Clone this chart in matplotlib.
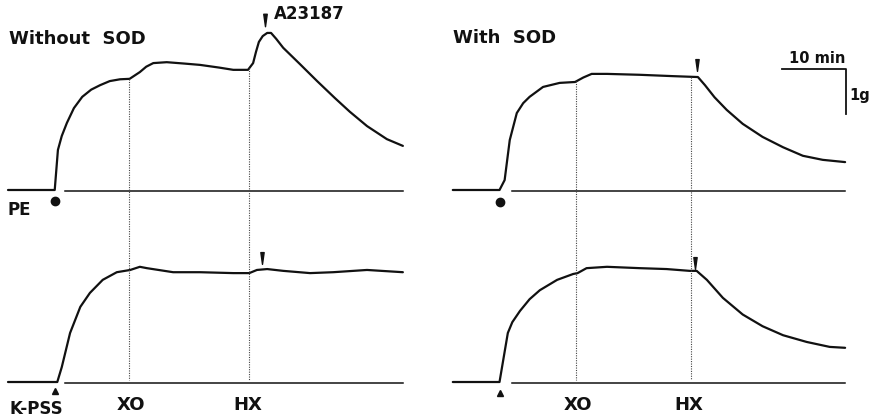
import numpy as np
import matplotlib.pyplot as plt
from matplotlib.path import Path

# ---- data: time (min) and tension (g above rest) ----
# Without SOD, PE contraction
pe_wo_t = [0, 7.3, 7.8, 8.4, 9.2, 10.3, 11.6, 13.0, 14.4, 15.9, 17.5, 19.0,
           20.6, 21.6, 22.7, 24.8, 27.5, 30.0, 33.0, 35.2, 37.5, 38.3, 38.75,
           39.2, 39.8, 40.5, 41.1, 41.9, 43.0, 45.6, 48.3, 51.1, 53.4, 56.1,
           59.2, 61.7]
pe_wo_g = [0, 0, 0.89, 1.2, 1.49, 1.82, 2.07, 2.23, 2.33, 2.42, 2.46, 2.47,
           2.62, 2.74, 2.82, 2.84, 2.81, 2.78, 2.72, 2.67, 2.67, 2.82, 3.07,
           3.29, 3.42, 3.49, 3.49, 3.36, 3.16, 2.80, 2.42, 2.04, 1.74, 1.42,
           1.13, 0.98]

# With SOD, PE contraction
pe_w_t = [0, 7.3, 8.1, 8.9, 10.0, 11.0, 12.0, 14.1, 16.7, 19.1, 20.4, 21.7,
          24.1, 29.2, 34.4, 38.3, 39.4, 40.9, 42.8, 45.3, 48.4, 51.6, 54.7,
          57.8, 61.3]
pe_w_g = [0, 0, 0.22, 1.11, 1.71, 1.93, 2.07, 2.29, 2.38, 2.40, 2.50, 2.58,
          2.58, 2.56, 2.53, 2.51, 2.33, 2.06, 1.78, 1.47, 1.18, 0.95, 0.76,
          0.67, 0.62]

# Without SOD, K-PSS contraction
k_wo_t = [0, 7.7, 8.4, 9.7, 11.3, 12.8, 14.8, 17.0, 19.1, 20.6, 21.7, 25.8,
          30.0, 35.2, 37.7, 38.9, 40.5, 43.0, 47.2, 50.8, 56.1, 61.7]
k_wo_g = [0, 0, 0.33, 1.09, 1.67, 1.98, 2.27, 2.44, 2.49, 2.56, 2.53, 2.44,
          2.44, 2.42, 2.42, 2.49, 2.51, 2.47, 2.42, 2.44, 2.49, 2.44]

# With SOD, K-PSS contraction
k_w_t = [0, 7.3, 7.8, 8.6, 9.3, 10.5, 12.0, 13.6, 16.3, 18.8, 19.5, 20.9,
         24.1, 29.2, 33.4, 37.0, 38.1, 39.7, 42.2, 45.3, 48.4, 51.6, 55.3,
         58.9, 61.3]
k_w_g = [0, 0, 0.42, 1.09, 1.33, 1.58, 1.84, 2.04, 2.27, 2.40, 2.42, 2.53,
         2.56, 2.53, 2.51, 2.47, 2.47, 2.27, 1.87, 1.50, 1.24, 1.04, 0.89,
         0.78, 0.76]

# zero-tension reference lines (start, end in min)
ref_wo = [8.9, 61.7]
ref_w = [9.3, 61.3]

# event times (min): drug added, XO, HX, A23187 / HX arrow
stim_wo, stim_w = 7.3, 7.3
xo_wo, xo_w = 18.9, 19.3
hx_wo, hx_w = 37.7, 37.2
arrow_top_wo, arrow_low_wo = 40.2, 39.7
arrow_top_w, arrow_low_w = 38.1, 37.8

# scale bar
bar_min = 10
bar_g = 1

# ---- layout ----
RIGHT = 69.5      # horizontal offset of the "With SOD" column (min)
LOW = -4.267      # vertical offset of the K-PSS rows (g)
ink = '#111111'

fig = plt.figure(figsize=(8.75, 4.19), dpi=100)
ax = fig.add_axes([0, 0, 1, 1])
ax.set_xlim(-1.25, 135.47)
ax.set_ylim(-5.089, 4.222)
ax.axis('off')

arrow = Path([(-0.28, 1), (0.28, 1), (0, -1), (-0.28, 1)],
             [Path.MOVETO, Path.LINETO, Path.LINETO, Path.CLOSEPOLY])

def trace(t, g, dx, dy):
    ax.plot(np.array(t) + dx, np.array(g) + dy, color=ink, lw=1.6,
            solid_joinstyle='round', solid_capstyle='round')

# traces
trace(pe_wo_t, pe_wo_g, 0, 0)
trace(pe_w_t, pe_w_g, RIGHT, 0)
trace(k_wo_t, k_wo_g, 0, LOW)
trace(k_w_t, k_w_g, RIGHT, LOW)

# reference lines
for ref, dx in [(ref_wo, 0), (ref_w, RIGHT)]:
    for dy in (0, LOW):
        ax.plot(np.array(ref) + dx, [dy - 0.02, dy - 0.02], color=ink, lw=1.1)

# dotted event lines from upper trace down to lower reference
for ev, t, g, dx in [(xo_wo, pe_wo_t, pe_wo_g, 0), (hx_wo, pe_wo_t, pe_wo_g, 0),
                     (xo_w, pe_w_t, pe_w_g, RIGHT), (hx_w, pe_w_t, pe_w_g, RIGHT)]:
    top = np.interp(ev, t, g)
    ax.plot([ev + dx, ev + dx], [top, LOW + 0.05], color='#444444', lw=0.8,
            linestyle=(0, (1, 1.2)))

# stimulus markers
ax.plot(stim_wo, -0.24, 'o', color=ink, ms=6)
ax.plot(stim_w + RIGHT, -0.27, 'o', color=ink, ms=6)
ax.plot(stim_wo, LOW - 0.2, '^', color=ink, ms=4.5)
ax.plot(stim_w + RIGHT, LOW - 0.24, '^', color=ink, ms=4.5)

# arrowheads
ax.plot(arrow_top_wo, 3.77, marker=arrow, color=ink, ms=9)
ax.plot(arrow_low_wo, LOW + 2.75, marker=arrow, color=ink, ms=8.5)
ax.plot(arrow_top_w + RIGHT, 2.77, marker=arrow, color=ink, ms=8.5)
ax.plot(arrow_low_w + RIGHT, LOW + 2.64, marker=arrow, color=ink, ms=8.5)

# scale bar
sx, sy = 51.5 + RIGHT, 2.69
ax.plot([sx, sx + bar_min, sx + bar_min], [sy, sy, sy - bar_g], color=ink, lw=1.3)
ax.text(sx + bar_min / 2 + 0.5, sy + 0.06, '%d min' % bar_min, ha='center',
        va='bottom', fontsize=10.5, fontweight='bold', color=ink)
ax.text(sx + bar_min + 0.5, sy - 0.6, '%dg' % bar_g, ha='left', va='center',
        fontsize=10.5, fontweight='bold', color=ink)

# labels
lab = dict(color=ink, fontweight='bold', family='DejaVu Sans')
ax.text(0.2, 3.36, 'Without  SOD', ha='left', va='center', fontsize=13, **lab)
ax.text(RIGHT, 3.38, 'With  SOD', ha='left', va='center', fontsize=13, **lab)
ax.text(41.6, 3.9, 'A23187', ha='left', va='center', fontsize=12, **lab)
ax.text(0.0, -0.45, 'PE', ha='left', va='center', fontsize=12, **lab)
ax.text(0.2, LOW - 0.6, 'K-PSS', ha='left', va='center', fontsize=12, **lab)
for dx, xo, hx in [(0, xo_wo, hx_wo), (RIGHT, xo_w, hx_w)]:
    ax.text(xo + dx + 0.3, LOW - 0.5, 'XO', ha='center', va='center', fontsize=13, **lab)
    ax.text(hx + dx - 0.3, LOW - 0.5, 'HX', ha='center', va='center', fontsize=13, **lab)

fig.savefig('out.png', dpi=100, facecolor='white')
